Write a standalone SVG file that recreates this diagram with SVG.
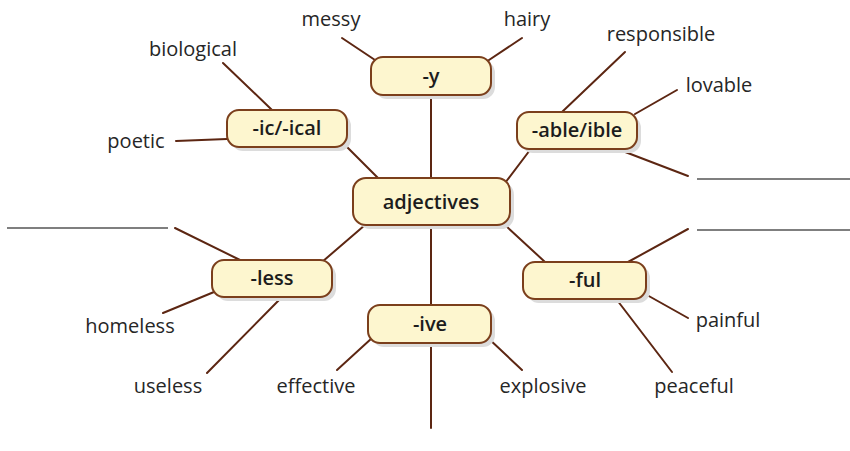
<svg xmlns="http://www.w3.org/2000/svg" width="850" height="451" viewBox="0 0 850 451">
<style>
.box{fill:#fdf6cf;stroke:#7b3f1c;stroke-width:2}
.sh{fill:#dcdcdc}
.lbl{font-family:"Open Sans","Noto Sans",sans-serif;font-weight:600;font-size:20px;fill:#1c1c1c;text-anchor:middle}
.w{font-family:"Open Sans","Noto Sans",sans-serif;font-size:20px;fill:#262626;text-anchor:middle}
.c{stroke:#5c2612;stroke-width:2;fill:none;stroke-linecap:round}
.blank{stroke:#555;stroke-width:1.5}
</style>
<rect width="850" height="451" fill="#fff"/>
<g id="connectors">
<line class="c" x1="431" y1="97" x2="431" y2="178"/>
<line class="c" x1="431" y1="225" x2="431" y2="305"/>
<line class="c" x1="431" y1="345" x2="431" y2="428"/>
<line class="c" x1="378" y1="62" x2="342" y2="38"/>
<line class="c" x1="486" y1="62" x2="522" y2="38"/>
<line class="c" x1="345" y1="145" x2="378" y2="178"/>
<line class="c" x1="272" y1="110" x2="223" y2="63"/>
<line class="c" x1="227" y1="139" x2="176" y2="141"/>
<line class="c" x1="505" y1="183" x2="530" y2="150"/>
<line class="c" x1="562" y1="112" x2="625" y2="52"/>
<line class="c" x1="635" y1="114" x2="677" y2="90"/>
<line class="c" x1="620" y1="150" x2="688" y2="176"/>
<line class="c" x1="365" y1="225" x2="322" y2="262"/>
<line class="c" x1="240" y1="260" x2="175" y2="228"/>
<line class="c" x1="214" y1="292" x2="163" y2="313"/>
<line class="c" x1="282" y1="297" x2="207" y2="373"/>
<line class="c" x1="505" y1="225" x2="545" y2="262"/>
<line class="c" x1="628" y1="262" x2="688" y2="229"/>
<line class="c" x1="647" y1="295" x2="688" y2="318"/>
<line class="c" x1="617" y1="300" x2="672" y2="372"/>
<line class="c" x1="372" y1="338" x2="337" y2="370"/>
<line class="c" x1="488" y1="338" x2="522" y2="370"/>
<line class="blank" x1="7" y1="228" x2="168" y2="228"/>
<line class="blank" x1="697" y1="179" x2="850" y2="179"/>
<line class="blank" x1="697" y1="230" x2="850" y2="230"/>
</g>
<g id="n-adjectives"><rect class="sh" x="357" y="182" width="157" height="47" rx="13"/><rect class="box" x="353" y="178" width="157" height="47" rx="13"/><text class="lbl" x="431" y="209">adjectives</text></g>
<g id="n-y"><rect class="sh" x="375" y="61" width="120" height="38" rx="12"/><rect class="box" x="371" y="57" width="120" height="38" rx="12"/><text class="lbl" x="431" y="83">-y</text></g>
<g id="n-ic"><rect class="sh" x="231" y="114" width="120" height="37" rx="12"/><rect class="box" x="227" y="110" width="120" height="37" rx="12"/><text class="lbl" x="287" y="135">-ic/-ical</text></g>
<g id="n-able"><rect class="sh" x="521" y="116" width="120" height="37" rx="12"/><rect class="box" x="517" y="112" width="120" height="37" rx="12"/><text class="lbl" x="577" y="137">-able/ible</text></g>
<g id="n-less"><rect class="sh" x="216" y="264" width="120" height="37" rx="12"/><rect class="box" x="212" y="260" width="120" height="37" rx="12"/><text class="lbl" x="272" y="285">-less</text></g>
<g id="n-ful"><rect class="sh" x="527" y="266" width="123" height="37" rx="12"/><rect class="box" x="523" y="262" width="123" height="37" rx="12"/><text class="lbl" x="585" y="287">-ful</text></g>
<g id="n-ive"><rect class="sh" x="372" y="309" width="123" height="38" rx="12"/><rect class="box" x="368" y="305" width="123" height="38" rx="12"/><text class="lbl" x="430" y="331">-ive</text></g>
<g id="words">
<text class="w" x="331" y="26">messy</text>
<text class="w" x="527" y="26">hairy</text>
<text class="w" x="193" y="56">biological</text>
<text class="w" x="136" y="148">poetic</text>
<text class="w" x="661" y="41">responsible</text>
<text class="w" x="719" y="92">lovable</text>
<text class="w" x="130" y="333">homeless</text>
<text class="w" x="168" y="393">useless</text>
<text class="w" x="316" y="393">effective</text>
<text class="w" x="543" y="393">explosive</text>
<text class="w" x="728" y="327">painful</text>
<text class="w" x="694" y="393">peaceful</text>
</g>
</svg>
